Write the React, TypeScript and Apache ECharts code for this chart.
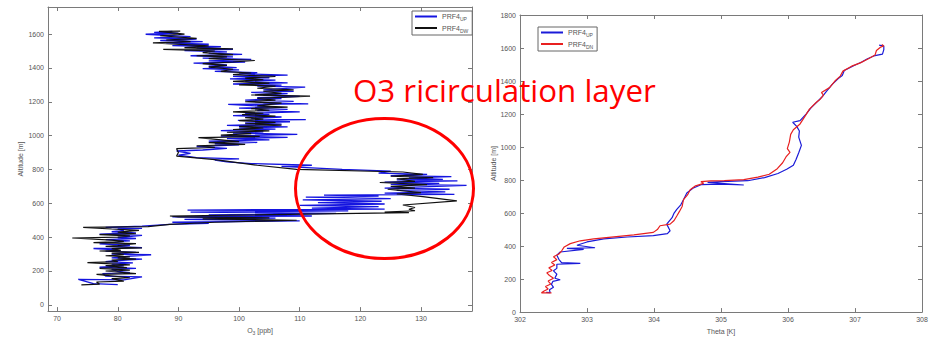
import React, { useEffect, useRef } from "react";
import * as echarts from "echarts";

// ---------- Left panel: O3 [ppb] vs altitude [m] ----------
const o3Ticks = [70, 80, 90, 100, 110, 120, 130];
const altTicksLeft = [0, 200, 400, 600, 800, 1000, 1200, 1400, 1600];

// [O3 ppb, altitude m]
const o3Up: [number, number][] = [
  [80, 120], [76, 125], [73.5, 150], [81, 148], [84, 165], [78, 170], [77.5, 185], [82, 190], [80, 198],
  [79, 210], [83, 215], [77, 222], [81, 230], [79, 240], [82.5, 248], [78, 255], [80, 262], [84, 270],
  [79, 278], [81, 285], [85.5, 296], [79, 300], [83, 310], [78, 318], [80, 325], [76, 333], [84, 338],
  [79, 345], [82, 352], [77, 360], [80, 370], [82, 378], [78, 385], [83, 392], [80, 398], [84, 410],
  [77, 418], [83, 425], [79, 432], [81, 440], [80, 448], [84, 452], [78, 458],
  [84, 465], [88.5, 475], [95, 482], [89, 488], [110, 496], [91, 505], [106, 512], [89, 520], [112, 525],
  [95, 532], [116, 540], [92, 548], [118, 555], [91.5, 560], [124, 566], [112, 572], [123, 580], [110, 588],
  [124, 596], [113, 604], [123.5, 612], [110.5, 620], [125, 628], [111, 636], [123, 643], [114, 648],
  [135.5, 653], [124, 660], [134, 668], [126, 676], [134.7, 683], [124, 690], [137.5, 706], [125, 712],
  [133, 718], [124, 725], [136, 732], [126, 738], [133.6, 741], [128, 750], [135, 758], [125, 764],
  [131, 771], [123, 778], [125, 790], [117, 800], [107, 818], [112, 825], [102, 835], [98, 845], [96, 855],
  [100, 862], [93, 870], [90, 885], [92, 895], [89.7, 909], [94, 915], [98, 925], [93, 935], [100, 945],
  [96, 952], [103, 960], [95, 968], [105, 975], [98, 982], [108, 990], [97, 997], [109.6, 1007], [99, 1015],
  [104, 1022], [97, 1030], [106, 1038], [100, 1045], [108, 1052], [98, 1060], [107, 1068], [101, 1075],
  [108.4, 1082], [99.8, 1090], [111, 1095], [102, 1102], [107, 1110], [99, 1118], [105, 1125], [101, 1132],
  [110, 1140], [103, 1148], [108, 1155], [100, 1162], [106, 1170], [98.2, 1184], [111.4, 1188], [104, 1195],
  [109, 1202], [101, 1210], [107, 1218], [103, 1225], [110, 1232], [104, 1240], [108, 1248], [102, 1255],
  [109, 1262], [104, 1270], [110.9, 1286], [103, 1292], [107, 1298], [99, 1305], [108, 1312], [101, 1320],
  [106, 1328], [98.5, 1335], [105, 1342], [99, 1350], [108, 1358], [100, 1365], [103, 1372], [96, 1380],
  [100, 1388], [94, 1396], [99.6, 1402], [95, 1410], [98, 1418], [92.5, 1428], [101, 1435], [95, 1442],
  [102, 1450], [94, 1458], [99, 1465], [92, 1472], [100.5, 1480], [95, 1488], [98, 1495], [91, 1502],
  [99, 1510], [93, 1518], [97, 1525], [89, 1532], [95, 1540], [88, 1548], [94, 1555], [87, 1562], [93, 1570],
  [86, 1578], [92, 1585], [84.6, 1599], [90, 1605], [86, 1610], [89, 1616],
];

const o3Dw: [number, number][] = [
  [74, 118], [77, 122], [76.5, 135], [81, 140], [79, 155], [82, 160], [76.5, 180], [83, 184], [78, 200],
  [82, 205], [77, 215], [81.5, 220], [78, 232], [82, 236], [75, 250], [80, 255], [79, 265], [83, 270],
  [80, 278], [82, 284], [78, 290], [81, 296], [79, 305], [83.5, 310], [77, 318], [80.5, 322], [79, 332],
  [84, 336], [78, 345], [80, 350], [83, 362], [76, 368], [81, 375], [79, 382], [72.5, 395], [80, 400],
  [82, 408], [77, 415], [83, 420], [80, 430], [83.5, 440], [79, 448], [74.3, 458], [85, 462], [88.6, 476],
  [96, 488], [109.5, 500], [94, 508], [105, 514], [90, 520], [88.6, 525], [128, 545], [124, 548], [129, 556],
  [128, 565], [129, 575], [127, 590], [135.9, 614], [130.3, 640], [126, 655], [130, 663], [124.5, 683],
  [129, 690], [125, 700], [131, 710], [123.2, 723], [129, 730], [126, 745], [132, 752], [125, 760],
  [130.3, 771], [127, 785], [109.5, 800], [103, 825], [96, 858], [89.7, 879], [90, 900], [89.7, 923],
  [96, 930], [93, 940], [101, 948], [95, 958], [100, 965], [93.3, 988], [103.4, 995], [97, 1003], [102, 1012],
  [98, 1020], [105, 1028], [99, 1036], [104, 1045], [100, 1054], [107, 1062], [101, 1070], [106, 1078],
  [100, 1088], [104, 1098], [101, 1106], [106, 1115], [100.5, 1124], [104, 1132], [99, 1140], [105, 1150],
  [102, 1160], [108, 1168], [103, 1176], [107, 1192], [101, 1200], [106, 1210], [103, 1220], [111.7, 1233],
  [102, 1240], [107, 1250], [104, 1262], [109, 1270], [103, 1280], [106, 1292], [100, 1300], [105, 1310],
  [99, 1320], [104, 1330], [101, 1340], [106, 1350], [99, 1360], [102, 1370], [97, 1380], [99, 1392],
  [95, 1405], [98, 1415], [94, 1425], [99, 1435], [102.6, 1444], [95, 1455], [98, 1465], [93, 1472],
  [99, 1479], [94, 1490], [96, 1500], [87.5, 1510], [99, 1512], [91, 1520], [95, 1530], [85.8, 1548],
  [92, 1555], [88, 1565], [93, 1575], [87, 1590], [91, 1600], [86.8, 1616], [90.3, 1618],
];

// ---------- Right panel: Theta [K] vs altitude [m] ----------
const thetaTicks = [302, 303, 304, 305, 306, 307, 308];
const altTicksRight = [0, 200, 400, 600, 800, 1000, 1200, 1400, 1600, 1800];

// [Theta K, altitude m]
const thetaUp: [number, number][] = [
  [302.39, 120], [302.45, 118], [302.44, 135], [302.5, 150], [302.47, 168], [302.49, 186], [302.6, 196],
  [302.52, 205], [302.55, 230], [302.5, 250], [302.55, 265], [302.55, 290], [302.9, 295], [302.62, 300],
  [302.58, 320], [302.55, 345], [302.6, 364], [302.95, 380], [302.7, 386], [303.12, 390], [302.85, 405],
  [303.0, 425], [303.25, 444], [303.6, 455], [303.99, 463], [304.2, 475], [304.24, 493], [304.19, 533],
  [304.27, 572], [304.3, 600], [304.34, 622], [304.4, 650], [304.44, 681], [304.49, 721], [304.58, 750],
  [304.7, 772], [305.0, 775], [305.34, 770], [305.0, 780], [304.8, 786], [305.0, 790], [305.4, 796],
  [305.65, 815], [305.85, 840], [305.98, 865], [306.08, 890], [306.12, 925], [306.16, 965], [306.2, 1010],
  [306.16, 1060], [306.17, 1097], [306.13, 1125], [306.07, 1150], [306.18, 1160], [306.27, 1200],
  [306.34, 1236], [306.4, 1260], [306.5, 1300], [306.58, 1340], [306.66, 1380], [306.75, 1415],
  [306.81, 1434], [306.84, 1464], [306.98, 1493], [307.1, 1515], [307.18, 1533], [307.28, 1552],
  [307.41, 1563], [307.43, 1590], [307.43, 1612], [307.36, 1618],
];

const thetaDn: [number, number][] = [
  [302.47, 117], [302.32, 117], [302.36, 128], [302.42, 140], [302.38, 155], [302.46, 170], [302.42, 188],
  [302.5, 205], [302.44, 222], [302.4, 238], [302.48, 252], [302.43, 268], [302.52, 285], [302.47, 300],
  [302.55, 318], [302.5, 335], [302.58, 352], [302.62, 370], [302.66, 395], [302.75, 415], [302.9, 432],
  [303.1, 444], [303.4, 456], [303.7, 468], [303.99, 483], [304.05, 500], [304.09, 523], [304.24, 533],
  [304.3, 555], [304.34, 582], [304.38, 610], [304.42, 640], [304.44, 681], [304.5, 710], [304.54, 741],
  [304.62, 765], [304.74, 780], [304.7, 790], [304.85, 795], [305.05, 797], [305.34, 803], [305.55, 818],
  [305.72, 835], [305.84, 869], [305.92, 905], [305.97, 940], [306.03, 968], [305.99, 990], [306.02, 1030],
  [306.04, 1077], [306.08, 1105], [306.18, 1140], [306.26, 1190], [306.32, 1230], [306.42, 1270],
  [306.48, 1290], [306.53, 1315], [306.5, 1330], [306.62, 1360], [306.7, 1400], [306.78, 1430],
  [306.82, 1460], [306.95, 1490], [307.08, 1510], [307.2, 1535], [307.3, 1558], [307.32, 1585],
  [307.38, 1605], [307.43, 1612], [307.4, 1622],
];

const legendNames: Record<string, string> = {
  upL: "{m|PRF4}{s|UP}",
  dwL: "{m|PRF4}{s|DW}",
  upR: "{m|PRF4}{s|UP}",
  dnR: "{m|PRF4}{s|DN}",
};

const FONT = "Liberation Sans, Arial, sans-serif";
const AXIS_COLOR = "#7a7a7a";
const LABEL_COLOR = "#555555";

function boxAxes(
  gridIndex: number,
  min: number,
  max: number,
  ticks: number[],
  isX: boolean,
  name: string,
  nameGap: number
) {
  const common = {
    type: "value" as const,
    gridIndex,
    min,
    max,
    splitLine: { show: false },
    axisLine: { show: true, onZero: false, lineStyle: { color: AXIS_COLOR, width: 1 } },
    axisTick: { show: true, inside: true, length: 4, customValues: ticks, lineStyle: { color: AXIS_COLOR } },
  };
  const main = {
    ...common,
    position: isX ? "bottom" : "left",
    name,
    nameLocation: "middle",
    nameGap,
    nameTextStyle: {
      fontFamily: FONT,
      fontSize: 7,
      color: LABEL_COLOR,
      rich: {
        a: { fontFamily: FONT, fontSize: 7, color: LABEL_COLOR },
        s: { fontFamily: FONT, fontSize: 5, color: LABEL_COLOR, padding: [4, 0, 0, 0] },
      },
    },
    axisLabel: {
      show: true,
      customValues: ticks,
      formatter: (v: number) => String(v),
      fontFamily: FONT,
      fontSize: 7,
      color: LABEL_COLOR,
      margin: 4,
    },
  };
  const mirror = {
    ...common,
    position: isX ? "top" : "right",
    axisLabel: { show: false },
  };
  return [main, mirror];
}

export default function App() {
  const ref = useRef<HTMLDivElement>(null);

  useEffect(() => {
    document.body.style.margin = "0";
    if (!ref.current) return;
    const chart = echarts.init(ref.current, null, { renderer: "svg" });

    const [xL, xLt] = boxAxes(0, 68.5, 138.4, o3Ticks, true, "{a|O}{s|3}{a| [ppb]}", 14);
    const [yL, yLr] = boxAxes(0, -37, 1760, altTicksLeft, false, "Altitude [m]", 24);
    const [xR, xRt] = boxAxes(1, 302, 308, thetaTicks, true, "Theta [K]", 13);
    const [yR, yRr] = boxAxes(1, 0, 1800, altTicksRight, false, "Altitude [m]", 22);

    const legendBase = {
      orient: "vertical" as const,
      backgroundColor: "#fff",
      borderColor: "#666",
      borderWidth: 1,
      borderRadius: 0,
      padding: [2, 4, 2, 3],
      itemGap: 3,
      itemWidth: 22,
      itemHeight: 2,
      icon: "rect",
      selectedMode: false,
      formatter: (n: string) => legendNames[n] || n,
      textStyle: {
        fontFamily: FONT,
        fontSize: 7,
        color: LABEL_COLOR,
        rich: {
          m: { fontFamily: FONT, fontSize: 7, color: LABEL_COLOR },
          s: { fontFamily: FONT, fontSize: 5, color: LABEL_COLOR, padding: [5, 0, 0, 0] },
        },
      },
    };

    chart.setOption({
      animation: false,
      backgroundColor: "#fff",
      grid: [
        { left: 48, top: 7, width: 424, height: 305, containLabel: false },
        { left: 520, top: 15, width: 402, height: 303, containLabel: false },
      ],
      xAxis: [xL, xLt, xR, xRt],
      yAxis: [yL, yLr, yR, yRr],
      legend: [
        { ...legendBase, left: 412, top: 11, data: ["upL", "dwL"] },
        { ...legendBase, left: 538, top: 27, data: ["upR", "dnR"] },
      ],
      series: [
        {
          name: "upL", type: "line", xAxisIndex: 0, yAxisIndex: 0, data: o3Up,
          showSymbol: false, symbol: "none", color: "#1515e0",
          lineStyle: { color: "#1515e0", width: 1.3 },
        },
        {
          name: "dwL", type: "line", xAxisIndex: 0, yAxisIndex: 0, data: o3Dw,
          showSymbol: false, symbol: "none", color: "#111111",
          lineStyle: { color: "#111111", width: 1.2 },
        },
        {
          name: "upR", type: "line", xAxisIndex: 2, yAxisIndex: 2, data: thetaUp,
          showSymbol: false, symbol: "none", color: "#1a1ad8",
          lineStyle: { color: "#1a1ad8", width: 1.2 },
        },
        {
          name: "dnR", type: "line", xAxisIndex: 2, yAxisIndex: 2, data: thetaDn,
          showSymbol: false, symbol: "none", color: "#e82020",
          lineStyle: { color: "#e82020", width: 1.2 },
        },
      ],
      graphic: [
        {
          type: "ellipse",
          shape: { cx: 384.5, cy: 188.5, rx: 89, ry: 70 },
          style: { fill: "none", stroke: "#ff0000", lineWidth: 3 },
          z: 100,
        },
        {
          type: "text",
          x: 353,
          y: 74,
          style: {
            text: "O3 ricirculation layer",
            fill: "#ff0000",
            font: "31.3px 'Open Sans', sans-serif",
          },
          z: 100,
        },
      ],
    });

    return () => chart.dispose();
  }, []);

  return <div ref={ref} style={{ width: 942, height: 340 }} />;
}
